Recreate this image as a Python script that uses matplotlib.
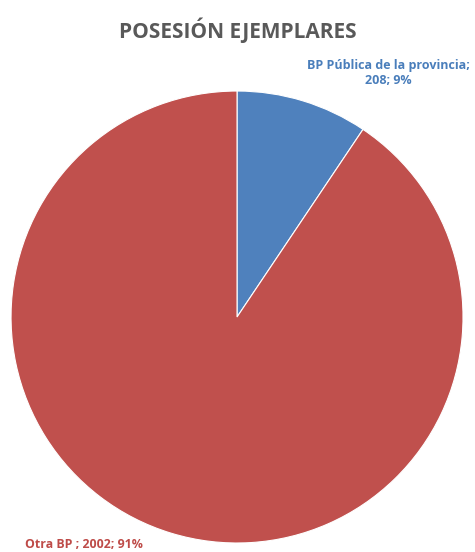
import matplotlib.pyplot as plt

categories = ['BP Pública de la provincia', 'Otra BP ']
values = [208, 2002]
percents = ['9%', '91%']
colors = ['#4F81BD', '#C0504D']
label_colors = ['#4A7EBB', '#BE4B48']

plt.rcParams['font.family'] = ['Open Sans', 'DejaVu Sans']

fig = plt.figure(figsize=(4.75, 5.52), dpi=100)
ax = fig.add_axes([0.0232, 0.0163, 0.9516, 0.8188])
ax.pie(values, colors=colors, startangle=90, counterclock=False,
       wedgeprops=dict(edgecolor='white', linewidth=0.8))
ax.set_xlim(-1, 1)
ax.set_ylim(-1, 1)
ax.set_aspect('equal')

# data labels
ax.text(0.668, 1.080, f'{categories[0]};\n{values[0]}; {percents[0]}',
        ha='center', va='center', fontsize=9, fontweight='bold',
        color=label_colors[0], linespacing=1.2, clip_on=False)
ax.text(-0.938, -1.008, f'{categories[1]}; {values[1]}; {percents[1]}',
        ha='left', va='center', fontsize=8.9, fontweight='bold',
        color=label_colors[1], clip_on=False)

fig.text(0.5, 1 - 30 / 552, 'POSESIÓN EJEMPLARES', ha='center', va='center',
         fontsize=15, fontweight='bold', color='#595959')

fig.savefig('out.png', dpi=100, facecolor='white')
